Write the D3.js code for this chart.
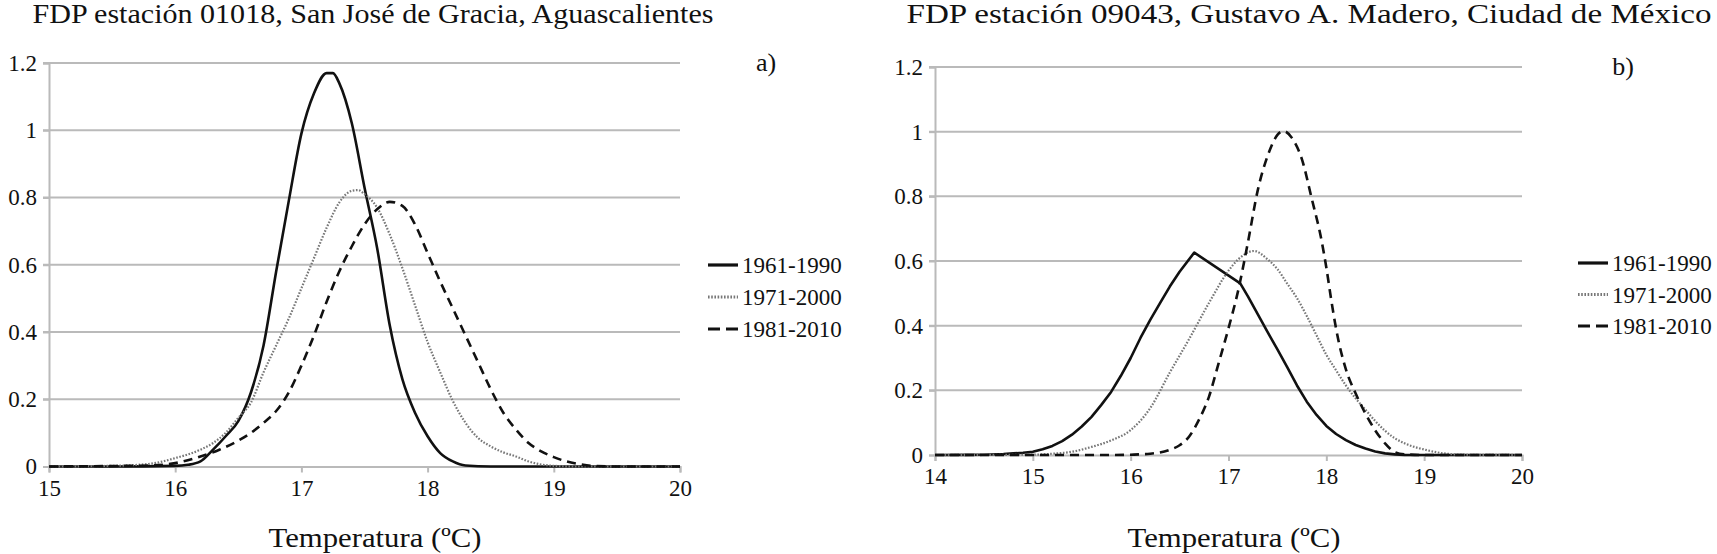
<!DOCTYPE html>
<html>
<head>
<meta charset="utf-8">
<script src="https://cdn.jsdelivr.net/npm/d3@7"></script>
<style>
  html, body { margin: 0; padding: 0; background: #fff; }
  svg { display: block; }
  text { font-family: "Liberation Serif", "DejaVu Serif", serif; fill: #111; }
</style>
</head>
<body>
<svg id="chart" width="1717" height="554"></svg>
<script>
// ---------- Data ----------
const seriesNames = ["1961-1990", "1971-2000", "1981-2010"];
const yTicks = [0, 0.2, 0.4, 0.6, 0.8, 1, 1.2];

// Panel a) San José de Gracia
const aTitle = "FDP estación 01018, San José de Gracia, Aguascalientes";
const aXTicks = [15, 16, 17, 18, 19, 20];
const a1961 = [[15,0],[15.5,0],[16,0.002],[16.1,0.005],[16.2,0.015],[16.3,0.05],[16.4,0.09],[16.5,0.135],[16.6,0.22],[16.7,0.36],[16.8,0.58],[16.9,0.79],[17.0,0.99],[17.1,1.11],[17.2,1.17],[17.25,1.17],[17.3,1.14],[17.4,1.02],[17.5,0.83],[17.6,0.65],[17.7,0.42],[17.8,0.26],[17.9,0.16],[18.0,0.09],[18.1,0.04],[18.2,0.015],[18.3,0.003],[18.5,0],[20,0]];
const a1971 = [[15,0],[15.5,0.002],[15.8,0.008],[16.0,0.025],[16.2,0.05],[16.3,0.07],[16.4,0.10],[16.5,0.145],[16.6,0.19],[16.7,0.28],[16.8,0.36],[16.9,0.44],[17.0,0.53],[17.1,0.62],[17.2,0.71],[17.3,0.785],[17.4,0.82],[17.45,0.822],[17.5,0.81],[17.6,0.77],[17.7,0.69],[17.8,0.59],[17.9,0.48],[18.0,0.37],[18.1,0.28],[18.2,0.195],[18.3,0.13],[18.4,0.085],[18.5,0.06],[18.6,0.042],[18.7,0.03],[18.8,0.015],[18.9,0.006],[19.0,0.002],[19.2,0],[20,0]];
const a1981 = [[15,0],[15.8,0.003],[16.0,0.01],[16.2,0.03],[16.35,0.05],[16.5,0.077],[16.6,0.1],[16.7,0.13],[16.8,0.165],[16.9,0.22],[17.0,0.30],[17.1,0.39],[17.2,0.49],[17.3,0.58],[17.4,0.655],[17.5,0.72],[17.6,0.765],[17.7,0.787],[17.8,0.775],[17.9,0.72],[18.0,0.635],[18.1,0.55],[18.2,0.47],[18.3,0.39],[18.4,0.31],[18.5,0.23],[18.6,0.16],[18.7,0.11],[18.8,0.07],[18.9,0.045],[19.0,0.028],[19.1,0.015],[19.2,0.007],[19.3,0.002],[19.5,0],[20,0]];

// Panel b) Gustavo A. Madero
const bTitle = "FDP estación 09043, Gustavo A. Madero, Ciudad de México";
const bXTicks = [14, 15, 16, 17, 18, 19, 20];
const b1961 = [[14,0],[14.3,0.0005],[14.5,0.001],[14.7,0.003],[14.8,0.005],[14.9,0.007],[15.0,0.01],[15.1,0.018],[15.2,0.028],[15.3,0.043],[15.4,0.063],[15.5,0.088],[15.6,0.118],[15.7,0.155],[15.8,0.195],[15.9,0.245],[16.0,0.30],[16.1,0.362],[16.2,0.418],[16.3,0.47],[16.4,0.521],[16.5,0.567],[16.65,0.626],[17.12,0.531],[17.2,0.49],[17.3,0.435],[17.4,0.38],[17.5,0.327],[17.6,0.272],[17.7,0.215],[17.8,0.165],[17.9,0.124],[18.0,0.09],[18.1,0.065],[18.2,0.046],[18.3,0.031],[18.4,0.02],[18.5,0.011],[18.6,0.005],[18.7,0.002],[18.8,0.0005],[19,0],[20,0]];
const b1971 = [[14,0],[15.0,0.001],[15.2,0.004],[15.4,0.01],[15.6,0.025],[15.8,0.045],[16.0,0.077],[16.2,0.145],[16.4,0.255],[16.6,0.36],[16.8,0.47],[17.0,0.57],[17.1,0.605],[17.26,0.631],[17.4,0.605],[17.5,0.575],[17.6,0.53],[17.7,0.485],[17.8,0.43],[17.9,0.37],[18.0,0.31],[18.1,0.262],[18.2,0.215],[18.3,0.175],[18.4,0.14],[18.5,0.105],[18.6,0.075],[18.7,0.052],[18.8,0.036],[18.9,0.025],[19.0,0.017],[19.1,0.01],[19.2,0.005],[19.4,0.001],[20,0]];
const b1981 = [[14,0],[15.8,0],[16.0,0.001],[16.2,0.004],[16.4,0.016],[16.5,0.03],[16.6,0.058],[16.7,0.11],[16.8,0.18],[16.9,0.285],[17.0,0.392],[17.1,0.51],[17.2,0.66],[17.3,0.82],[17.4,0.925],[17.5,0.99],[17.56,1.002],[17.65,0.98],[17.75,0.915],[17.85,0.794],[17.95,0.665],[18.0,0.58],[18.05,0.48],[18.1,0.39],[18.2,0.265],[18.3,0.19],[18.4,0.128],[18.5,0.076],[18.6,0.036],[18.7,0.009],[18.8,0.002],[19,0],[20,0]];

// ---------- Styles ----------
const styles = [
  { stroke: "#111", width: 2.6, dash: null },
  { stroke: "#777", width: 2.2, dash: "1.6,1.6" },
  { stroke: "#111", width: 2.6, dash: "9,6" }
];

const svg = d3.select("#chart");

function panel(cfg) {
  const x = d3.scaleLinear().domain(cfg.xDomain).range([cfg.x0, cfg.x1]);
  const y = d3.scaleLinear().domain([0, 1.2]).range([cfg.y0, cfg.y1]);
  const g = svg.append("g");

  // grid lines
  g.append("g").selectAll("line").data(yTicks.slice(1)).join("line")
    .attr("x1", cfg.x0 - 6).attr("x2", cfg.x1)
    .attr("y1", d => y(d)).attr("y2", d => y(d))
    .attr("stroke", "#bababa").attr("stroke-width", 2);

  // y axis
  const yAxis = d3.axisLeft(y).tickValues(yTicks).tickSize(6).tickPadding(6)
    .tickFormat(d => d3.format("")(d));
  const ya = g.append("g").attr("transform", `translate(${cfg.x0},0)`).call(yAxis);
  ya.select(".domain").attr("stroke", "#bababa").attr("stroke-width", 2);
  ya.selectAll(".tick line").attr("stroke", "#bababa").attr("stroke-width", 2);
  ya.selectAll(".tick text").attr("font-size", 23).attr("font-family", "Liberation Serif").attr("fill", "#111");

  // x axis
  const xAxis = d3.axisBottom(x).tickValues(cfg.xTicks).tickSize(6).tickPadding(7)
    .tickFormat(d3.format("d"));
  const xa = g.append("g").attr("transform", `translate(0,${cfg.y0})`).call(xAxis);
  xa.select(".domain").attr("stroke", "#bababa").attr("stroke-width", 2);
  xa.selectAll(".tick line").attr("stroke", "#bababa").attr("stroke-width", 2);
  xa.selectAll(".tick text").attr("font-size", 23).attr("font-family", "Liberation Serif").attr("fill", "#111");

  // lines
  cfg.series.forEach((s, i) => {
    const curve = (cfg.linear && cfg.linear[i]) ? d3.curveLinear : d3.curveMonotoneX;
    const line = d3.line().x(d => x(d[0])).y(d => y(d[1])).curve(curve);
    g.append("path").datum(s).attr("d", line)
      .attr("fill", "none").attr("stroke", styles[i].stroke)
      .attr("stroke-width", styles[i].width)
      .attr("stroke-dasharray", styles[i].dash)
      .attr("stroke-linejoin", "round");
  });

  // title
  g.append("text").attr("x", cfg.titleX).attr("y", 23)
    .attr("text-anchor", "middle").attr("font-size", 27)
    .attr("textLength", cfg.titleW).attr("lengthAdjust", "spacingAndGlyphs")
    .text(cfg.title);

  // panel letter
  g.append("text").attr("x", cfg.letterX).attr("y", cfg.y1 + 8)
    .attr("text-anchor", "middle").attr("font-size", 26).text(cfg.letter);

  // legend
  const lg = g.append("g");
  seriesNames.forEach((n, i) => {
    const yy = cfg.legY + i * cfg.legStep;
    lg.append("line").attr("x1", cfg.legX).attr("x2", cfg.legX + 30)
      .attr("y1", yy).attr("y2", yy)
      .attr("stroke", styles[i].stroke).attr("stroke-width", styles[i].width + 0.6)
      .attr("stroke-dasharray", i === 2 ? "12,6" : styles[i].dash);
    lg.append("text").attr("x", cfg.legX + 34).attr("y", yy).attr("dy", "0.35em")
      .attr("font-size", 23).text(n);
  });

  // x axis title
  g.append("text").attr("x", cfg.axisTitleX).attr("y", 547)
    .attr("text-anchor", "middle").attr("font-size", 28)
    .attr("textLength", 213).attr("lengthAdjust", "spacingAndGlyphs")
    .text("Temperatura (ºC)");
}

panel({
  xDomain: [15, 20], xTicks: aXTicks, x0: 49, x1: 680, y0: 466.5, y1: 63,
  series: [a1961, a1971, a1981], title: aTitle, titleX: 373, titleW: 681,
  letter: "a)", letterX: 766, legX: 708, legY: 265, legStep: 32, axisTitleX: 375
});
panel({
  xDomain: [14, 20], xTicks: bXTicks, x0: 935, x1: 1522, y0: 455, y1: 67,
  series: [b1961, b1971, b1981], title: bTitle, titleX: 1309, titleW: 805,
  letter: "b)", letterX: 1623, legX: 1578, legY: 263, legStep: 31.5, axisTitleX: 1234,
  linear: [true, false, false]
});
</script>
</body>
</html>
